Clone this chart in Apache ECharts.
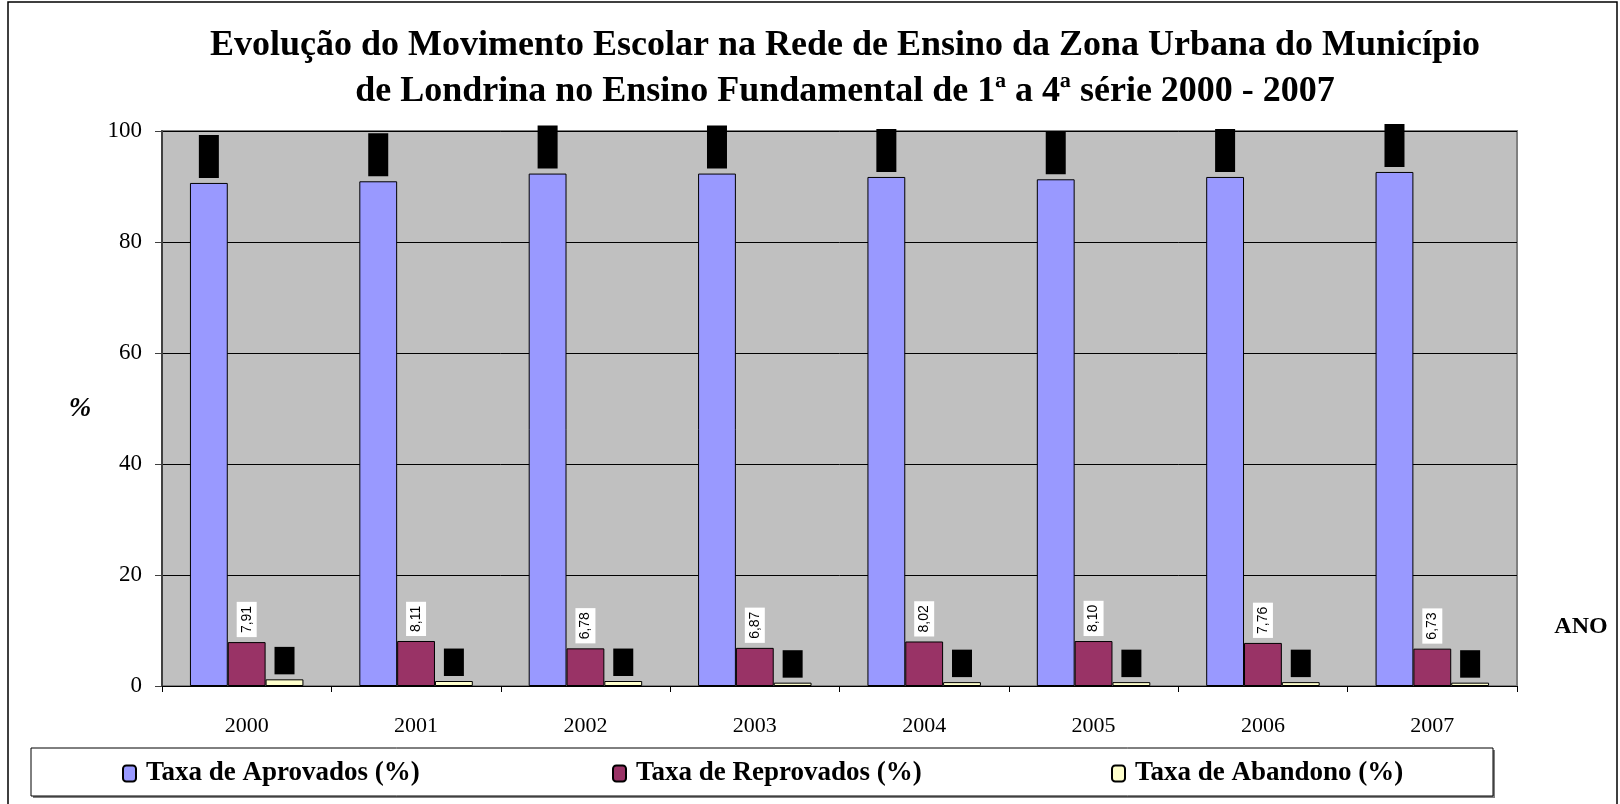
<!DOCTYPE html>
<html>
<head>
<meta charset="utf-8">
<title>Movimento Escolar Londrina</title>
<script src="https://cdn.jsdelivr.net/npm/echarts@6/dist/echarts.min.js"></script>
<style>
  html, body { margin: 0; padding: 0; background: #fff; }
  #chart { width: 1620px; height: 804px; }
</style>
</head>
<body>
<div id="chart"></div>
<script>
const anos = ['2000', '2001', '2002', '2003', '2004', '2005', '2006', '2007'];
const aprovados = [90.64, 90.94, 92.33, 92.33, 91.72, 91.30, 91.72, 92.62];
const reprovados = [7.91, 8.11, 6.78, 6.87, 8.02, 8.10, 7.76, 6.73];
const abandono = [1.2, 0.9, 0.9, 0.6, 0.7, 0.7, 0.7, 0.6];
const yTicks = [0, 20, 40, 60, 80, 100];

const serif = '"Liberation Serif", "Times New Roman", serif';

const myChart = echarts.init(document.getElementById('chart'));

// rotulos em pe, com virgula decimal
function rotulo(bg, casas) {
  return {
    show: true,
    position: 'top',
    distance: 5,
    rotate: 90,
    align: 'left',
    verticalAlign: 'middle',
    fontFamily: 'Arial, "Liberation Sans", sans-serif',
    fontSize: 14,
    color: '#000',
    backgroundColor: bg,
    padding: [3, 4, 3, 4],
    formatter: p => p.value.toFixed(casas).replace('.', ',')
  };
}

const legendaItem = (nome, x) => ({
  data: [nome],
  left: x,
  top: 755,
  itemWidth: 13,
  itemHeight: 16,
  itemGap: 0,
  textStyle: {
    fontFamily: serif, fontWeight: 'bold', fontSize: 27, color: '#000',
    padding: [0, 0, 0, 5]
  }
});

const option = {
  animation: false,
  backgroundColor: '#fff',
  grid: {
    left: 162, right: 103, top: 131, bottom: 118,
    show: true,
    backgroundColor: '#c0c0c0',
    borderColor: '#808080',
    borderWidth: 2
  },
  legend: [
    legendaItem('Taxa de Aprovados (%)', 117),
    legendaItem('Taxa de Reprovados (%)', 607),
    legendaItem('Taxa de Abandono (%)', 1106)
  ],
  xAxis: {
    type: 'category',
    data: anos,
    axisLine: { lineStyle: { color: '#000', width: 1 } },
    axisTick: { show: true, length: 6, lineStyle: { color: '#000' } },
    axisLabel: { margin: 29, fontFamily: serif, fontSize: 22, color: '#000' },
    splitLine: { show: false }
  },
  yAxis: {
    type: 'value',
    min: yTicks[0],
    max: yTicks[yTicks.length - 1],
    interval: 20,
    axisLine: { show: true, lineStyle: { color: '#404040', width: 2 } },
    axisTick: { show: true, length: 7, lineStyle: { color: '#404040' } },
    axisLabel: { margin: 20, fontFamily: serif, fontSize: 23, color: '#000' },
    splitLine: { show: true, lineStyle: { color: '#000', width: 1 } }
  },
  series: [
    {
      name: 'Taxa de Aprovados (%)',
      type: 'bar',
      data: aprovados,
      barGap: 0,
      barCategoryGap: '33%',
      itemStyle: { color: '#9999ff', borderColor: '#000', borderWidth: 1 },
      label: rotulo('#000', 2)
    },
    {
      name: 'Taxa de Reprovados (%)',
      type: 'bar',
      data: reprovados,
      barGap: 0,
      barCategoryGap: '33%',
      itemStyle: { color: '#993366', borderColor: '#000', borderWidth: 1 },
      label: rotulo('#fff', 2)
    },
    {
      name: 'Taxa de Abandono (%)',
      type: 'bar',
      data: abandono,
      barGap: 0,
      barCategoryGap: '33%',
      itemStyle: { color: '#ffffcc', borderColor: '#000', borderWidth: 1 },
      label: rotulo('#000', 1)
    }
  ],
  graphic: [
    {
      type: 'rect', z: -10, silent: true,
      shape: { x: 8, y: 2, width: 1609, height: 810 },
      style: { fill: 'none', stroke: '#000', lineWidth: 1.5 }
    },
    {
      type: 'rect', z: -5, silent: true,
      shape: { x: 33, y: 750, width: 1462, height: 48 },
      style: { fill: '#808080', stroke: 'none' }
    },
    {
      type: 'rect', z: -4, silent: true,
      shape: { x: 31, y: 748, width: 1462, height: 48 },
      style: { fill: '#fff', stroke: '#000', lineWidth: 1 }
    },
    {
      type: 'text', silent: true,
      x: 845, y: 69,
      style: {
        text: 'Evolução do Movimento Escolar na Rede de Ensino da Zona Urbana do Município\nde Londrina no Ensino Fundamental de 1ª a 4ª série 2000 - 2007',
        font: 'bold 36px ' + serif,
        lineHeight: 46,
        fill: '#000',
        textAlign: 'center',
        textVerticalAlign: 'middle'
      }
    },
    {
      type: 'text', silent: true,
      x: 80, y: 409,
      style: {
        text: '%',
        font: 'italic bold 27px ' + serif,
        fill: '#000',
        textAlign: 'center',
        textVerticalAlign: 'middle'
      }
    },
    {
      type: 'text', silent: true,
      x: 1581, y: 627,
      style: {
        text: 'ANO',
        font: 'bold 24px ' + serif,
        fill: '#000',
        textAlign: 'center',
        textVerticalAlign: 'middle'
      }
    }
  ]
};

option && myChart.setOption(option);
</script>
</body>
</html>
